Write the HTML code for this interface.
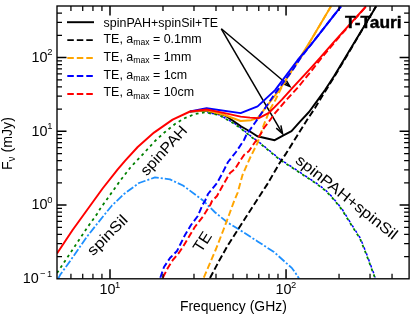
<!DOCTYPE html><html><head><meta charset="utf-8"><style>html,body{margin:0;padding:0;background:#fff}svg{display:block;will-change:transform}text{font-family:"Liberation Sans",sans-serif;fill:#000}</style></head><body>
<svg width="415" height="321" viewBox="0 0 415 321">
<rect width="415" height="321" fill="#fff"/>
<defs><clipPath id="c"><rect x="57.0" y="6.0" width="352.1" height="272.8"/></clipPath></defs>
<path d="M221.3,28.8 L289.1,85.8" stroke="#000" stroke-width="1.5" fill="none"/>
<path d="M282.01,83.39 L289.88,86.47 L285.49,79.25" fill="none" stroke="#000" stroke-width="1.5" stroke-linejoin="miter" stroke-miterlimit="10"/>
<path d="M221.3,28.8 L282.1,132.9" stroke="#000" stroke-width="1.5" fill="none"/>
<path d="M276.23,128.17 L282.59,133.72 L280.89,125.45" fill="none" stroke="#000" stroke-width="1.5" stroke-linejoin="miter" stroke-miterlimit="10"/>
<g clip-path="url(#c)" fill="none" stroke-width="1.95" stroke-linejoin="round">
<path d="M57.0,273.0 L67.0,258.0 L77.0,243.0 L87.0,228.0 L97.0,214.0 L100.0,209.0 L110.0,195.0 L120.0,181.0 L130.0,168.0 L134.0,163.6 L145.0,152.0 L155.0,141.0 L165.0,132.0 L175.0,124.0 L185.0,118.0 L195.0,114.0 L204.5,112.3 L218.9,115.0 L233.4,123.2 L240.0,127.8 L250.8,136.6 L261.7,144.8 L280.1,159.9 L292.0,167.5 L305.0,176.2 L316.0,183.5 L325.0,190.2 L330.0,195.2 L335.0,201.0 L342.0,209.8 L352.0,226.0 L360.0,238.5 L366.0,253.6 L374.9,277.7" stroke="#008000" stroke-width="1.8" stroke-dasharray="2.8,3.5"/>
<path d="M58.2,278.6 L60.2,274.8 L68.0,264.0 L77.6,250.2 L87.2,236.4 L97.0,224.0 L105.0,214.0 L112.0,205.5 L124.0,194.0 L139.0,183.0 L155.0,177.4 L170.0,179.4 L183.0,185.5 L187.6,188.9 L202.7,200.2 L215.2,212.5 L227.7,222.6 L240.0,230.1 L257.6,241.4 L274.0,252.0 L284.0,261.0 L292.0,268.2 L295.5,273.0 L299.0,278.5" stroke="#1e90ff" stroke-width="1.8" stroke-dasharray="7.8,2.0,2.1,2.0"/>
<clipPath id="c2"><rect x="207" y="0" width="300" height="321"/></clipPath>
<g clip-path="url(#c2)"><path d="M57.0,273.0 L67.0,258.0 L77.0,243.0 L87.0,228.0 L97.0,214.0 L100.0,209.0 L110.0,195.0 L120.0,181.0 L130.0,168.0 L134.0,163.6 L145.0,152.0 L155.0,141.0 L165.0,132.0 L175.0,124.0 L185.0,118.0 L195.0,114.0 L204.5,112.3 L218.9,115.0 L233.4,123.2 L240.0,127.8 L250.8,136.6 L261.7,144.8 L280.1,159.9 L292.0,167.5 L305.0,176.2 L316.0,183.5 L325.0,190.2 L330.0,195.2 L335.0,201.0 L342.0,209.8 L352.0,226.0 L360.0,238.5 L366.0,253.6 L374.9,277.7" stroke="#0000ff" stroke-width="1.5" stroke-dasharray="2.5,3.8" stroke-dashoffset="3.3" transform="translate(0.35,-0.3)"/></g>
<path d="M190.0,111.5 L206.6,110.5 L224.7,115.2 L233.4,121.0 L241.3,126.5 L250.0,131.5 L257.3,136.2 L274.7,140.2 L283.4,135.4 L291.5,131.2 L300.0,121.7 L309.0,112.0 L317.7,100.1 L325.0,90.0 L334.0,76.3 L376.2,6.3" stroke="#000" />
<path d="M210.0,278.0 L219.0,261.0 L228.0,245.0 L237.0,231.0 L246.0,217.0 L258.0,198.5 L267.2,184.4 L279.5,163.2 L286.0,153.6 L297.0,136.0 L307.0,120.0 L315.0,108.0 L323.0,94.8 L334.0,77.3 L350.0,50.5 L376.0,6.3" stroke="#000" stroke-dasharray="6.5,3.0" />
<path d="M190.0,111.5 L206.6,110.2 L224.7,115.0 L240.6,121.0 L251.3,120.2 L257.6,118.1 L280.0,89.0 L297.7,61.3 L311.0,40.1 L331.0,6.3" stroke="#ffa500" />
<path d="M203.8,277.6 L216.0,249.0 L223.0,231.0 L229.0,215.0 L234.0,201.3 L237.7,192.6 L242.5,175.0 L250.0,158.0 L257.3,143.4 L263.9,124.6 L270.4,108.7 L275.4,100.0 L281.7,87.1 L291.1,71.9 L301.9,56.0 L311.0,40.1 L331.0,6.3" stroke="#ffa500" stroke-dasharray="6.5,3.0" />
<path d="M190.0,111.5 L206.6,108.3 L240.6,113.1 L257.6,106.4 L275.1,90.1 L297.7,60.0 L311.0,44.6 L341.0,6.3" stroke="#0000ff" />
<path d="M160.3,277.7 L164.0,267.0 L170.0,258.0 L177.0,251.0 L180.0,245.0 L185.0,235.0 L191.0,225.0 L197.8,216.0 L202.7,204.5 L205.0,201.0 L208.0,194.0 L217.0,183.0 L222.0,174.0 L228.0,162.0 L236.0,152.0 L244.0,140.0 L246.3,135.0 L255.0,122.7 L265.5,107.5 L275.2,93.3 L284.0,81.5 L293.0,69.5 L300.5,58.0 L311.0,44.6 L341.0,6.3" stroke="#0000ff" stroke-dasharray="6.5,3.0" />
<path d="M57.0,253.5 L72.6,230.0 L87.6,209.3 L102.6,188.5 L117.7,169.3 L125.2,160.6 L137.7,147.0 L154.0,132.6 L172.6,119.6 L190.0,111.5 L206.6,109.5 L224.7,113.1 L240.6,116.6 L250.0,117.6 L258.8,118.2 L268.9,112.8 L275.1,106.6 L281.9,99.6 L292.7,87.6 L311.0,67.9 L320.0,57.8 L332.0,44.2 L366.0,6.3" stroke="#ff0000" />
<path d="M162.8,277.7 L167.8,268.0 L172.8,260.0 L178.8,253.0 L182.8,247.0 L188.8,237.0 L194.8,227.0 L203.0,216.5 L210.5,204.5 L212.0,201.0 L217.0,196.0 L223.0,185.0 L230.0,173.0 L235.0,169.0 L240.0,161.0 L244.0,155.0 L249.0,151.0 L252.3,146.0 L261.3,133.0 L264.0,128.0 L269.0,121.5 L275.0,113.2 L285.0,101.4 L298.0,87.3 L310.0,72.6 L320.0,59.8 L340.0,36.0 L366.0,6.6" stroke="#ff0000" stroke-dasharray="6.5,3.0" />
</g>
<rect x="57.0" y="6.0" width="352.1" height="272.8" fill="none" stroke="#000" stroke-width="1.35"/>
<path d="M70.94,278.80 v-5.00 M70.94,6.00 v5.00 M82.73,278.80 v-5.00 M82.73,6.00 v5.00 M92.94,278.80 v-5.00 M92.94,6.00 v5.00 M101.94,278.80 v-5.00 M101.94,6.00 v5.00 M162.99,278.80 v-5.00 M162.99,6.00 v5.00 M193.99,278.80 v-5.00 M193.99,6.00 v5.00 M215.99,278.80 v-5.00 M215.99,6.00 v5.00 M233.05,278.80 v-5.00 M233.05,6.00 v5.00 M246.99,278.80 v-5.00 M246.99,6.00 v5.00 M258.78,278.80 v-5.00 M258.78,6.00 v5.00 M268.99,278.80 v-5.00 M268.99,6.00 v5.00 M277.99,278.80 v-5.00 M277.99,6.00 v5.00 M339.04,278.80 v-5.00 M339.04,6.00 v5.00 M370.04,278.80 v-5.00 M370.04,6.00 v5.00 M392.04,278.80 v-5.00 M392.04,6.00 v5.00 M57.00,256.60 h5.00 M409.10,256.60 h-5.00 M57.00,243.61 h5.00 M409.10,243.61 h-5.00 M57.00,234.40 h5.00 M409.10,234.40 h-5.00 M57.00,227.25 h5.00 M409.10,227.25 h-5.00 M57.00,221.41 h5.00 M409.10,221.41 h-5.00 M57.00,216.47 h5.00 M409.10,216.47 h-5.00 M57.00,212.20 h5.00 M409.10,212.20 h-5.00 M57.00,208.42 h5.00 M409.10,208.42 h-5.00 M57.00,182.85 h5.00 M409.10,182.85 h-5.00 M57.00,169.86 h5.00 M409.10,169.86 h-5.00 M57.00,160.65 h5.00 M409.10,160.65 h-5.00 M57.00,153.50 h5.00 M409.10,153.50 h-5.00 M57.00,147.66 h5.00 M409.10,147.66 h-5.00 M57.00,142.72 h5.00 M409.10,142.72 h-5.00 M57.00,138.45 h5.00 M409.10,138.45 h-5.00 M57.00,134.67 h5.00 M409.10,134.67 h-5.00 M57.00,109.10 h5.00 M409.10,109.10 h-5.00 M57.00,96.11 h5.00 M409.10,96.11 h-5.00 M57.00,86.90 h5.00 M409.10,86.90 h-5.00 M57.00,79.75 h5.00 M409.10,79.75 h-5.00 M57.00,73.91 h5.00 M409.10,73.91 h-5.00 M57.00,68.97 h5.00 M409.10,68.97 h-5.00 M57.00,64.70 h5.00 M409.10,64.70 h-5.00 M57.00,60.92 h5.00 M409.10,60.92 h-5.00 M57.00,35.35 h5.00 M409.10,35.35 h-5.00 M57.00,22.36 h5.00 M409.10,22.36 h-5.00 M57.00,13.15 h5.00 M409.10,13.15 h-5.00" stroke="#000" stroke-width="1.25" fill="none"/>
<path d="M110.00,278.80 v-9.50 M110.00,6.00 v9.50 M286.05,278.80 v-9.50 M286.05,6.00 v9.50 M57.00,205.05 h9.50 M409.10,205.05 h-9.50 M57.00,131.30 h9.50 M409.10,131.30 h-9.50 M57.00,57.55 h9.50 M409.10,57.55 h-9.50" stroke="#000" stroke-width="1.5" fill="none"/>
<text x="115.5" y="294.3" font-size="14.4" text-anchor="end">10</text>
<text x="115.1" y="287.7" font-size="9.4">1</text>
<text x="291.5" y="294.3" font-size="14.4" text-anchor="end">10</text>
<text x="291.1" y="287.7" font-size="9.4">2</text>
<text x="38.8" y="283.1" font-size="14.4" text-anchor="end">10</text>
<text x="40.0" y="276.5" font-size="9.4">−<tspan dx="1.6">1</tspan></text>
<text x="47.6" y="209.3" font-size="14.4" text-anchor="end">10</text>
<text x="47.2" y="202.7" font-size="9.4">0</text>
<text x="47.6" y="135.6" font-size="14.4" text-anchor="end">10</text>
<text x="47.2" y="129.0" font-size="9.4">1</text>
<text x="47.6" y="61.8" font-size="14.4" text-anchor="end">10</text>
<text x="47.2" y="55.2" font-size="9.4">2</text>
<text transform="translate(233.4,311.3) scale(0.962,1)" font-size="14.5" text-anchor="middle">Frequency (GHz)</text>
<text transform="translate(12.4,143.6) rotate(-90) scale(0.985,1)" font-size="14.4" text-anchor="middle">F<tspan font-size="10" dy="2.2">ν</tspan><tspan dy="-2.2"> (mJy)</tspan></text>
<path d="M67,22.2 H94" stroke="#000" stroke-width="1.95"/>
<text x="103.6" y="26.75" font-size="12.45">spinPAH+spinSil+TE</text>
<path d="M67.3,40.1 H93" stroke="#000" stroke-width="1.95" stroke-dasharray="6.5,3.0"/>
<text x="103.5" y="42.65" font-size="12.45">TE, a<tspan font-size="8.6" dy="2.4">max</tspan><tspan dy="-2.4"> = 0.1mm</tspan></text>
<path d="M67.3,57.9 H93" stroke="#ffa500" stroke-width="1.95" stroke-dasharray="6.5,3.0"/>
<text x="103.5" y="60.50" font-size="12.45">TE, a<tspan font-size="8.6" dy="2.4">max</tspan><tspan dy="-2.4"> = 1mm</tspan></text>
<path d="M67.3,75.9 H93" stroke="#0000ff" stroke-width="1.95" stroke-dasharray="6.5,3.0"/>
<text x="103.5" y="78.50" font-size="12.45">TE, a<tspan font-size="8.6" dy="2.4">max</tspan><tspan dy="-2.4"> = 1cm</tspan></text>
<path d="M67.3,93.9 H93" stroke="#ff0000" stroke-width="1.95" stroke-dasharray="6.5,3.0"/>
<text x="103.5" y="96.30" font-size="12.45">TE, a<tspan font-size="8.6" dy="2.4">max</tspan><tspan dy="-2.4"> = 10cm</tspan></text>
<text x="345" y="27.5" font-size="15.8" font-weight="bold" textLength="56.6" lengthAdjust="spacingAndGlyphs" stroke="#000" stroke-width="0.4">T-Tauri</text>
<text transform="translate(163.5,150.2) rotate(-47.5)" font-size="15.0" text-anchor="middle" textLength="61.5" lengthAdjust="spacingAndGlyphs" dy="5.3">spinPAH</text>
<text transform="translate(107.2,235.0) rotate(-45.0)" font-size="15.0" text-anchor="middle" textLength="50.5" lengthAdjust="spacingAndGlyphs" dy="5.3">spinSil</text>
<text transform="translate(202.4,241.8) rotate(-57.5)" font-size="16.0" text-anchor="middle" textLength="20.5" lengthAdjust="spacingAndGlyphs" dy="5.3">TE</text>
<text transform="translate(347.0,196.9) rotate(38.5)" font-size="15.0" text-anchor="middle" textLength="125.5" lengthAdjust="spacingAndGlyphs" dy="5.3">spinPAH+spinSil</text>
</svg></body></html>
